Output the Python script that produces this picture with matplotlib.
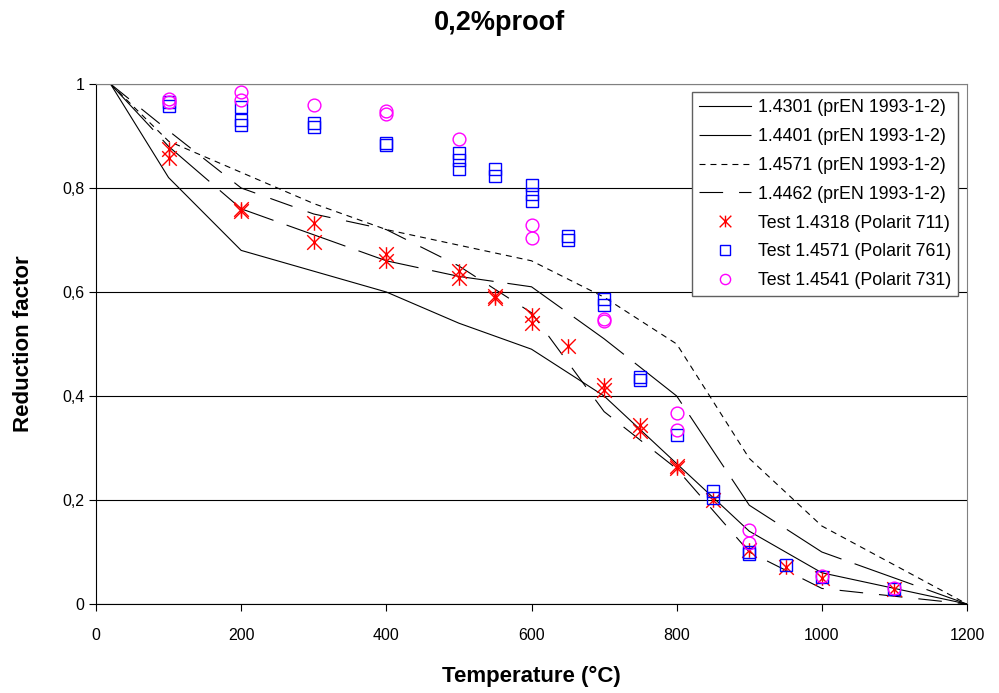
import matplotlib
matplotlib.use('Agg')
import matplotlib.pyplot as plt
from matplotlib.path import Path
from matplotlib.ticker import FuncFormatter

plt.rcParams['font.family'] = ['Liberation Sans', 'DejaVu Sans']
plt.rcParams['lines.scale_dashes'] = False

# prEN 1993-1-2 reduction factors k0,2proof
temps_en = [20, 100, 200, 300, 400, 500, 600, 700, 800, 900, 1000, 1100, 1200]
k_4301 = [1, 0.82, 0.68, 0.64, 0.60, 0.54, 0.49, 0.40, 0.27, 0.14, 0.06, 0.03, 0]
k_4401 = [1, 0.88, 0.76, 0.71, 0.66, 0.63, 0.61, 0.51, 0.40, 0.19, 0.10, 0.05, 0]
k_4571 = [1, 0.89, 0.83, 0.77, 0.72, 0.69, 0.66, 0.59, 0.50, 0.28, 0.15, 0.075, 0]
k_4462 = [1, 0.91, 0.80, 0.75, 0.72, 0.65, 0.56, 0.37, 0.26, 0.10, 0.03, 0.015, 0]

# test results
t_4318 = [100, 100, 200, 200, 300, 300, 400, 400, 500, 500, 550, 550, 600, 600,
          650, 700, 700, 750, 750, 800, 800, 850, 900, 950, 1000, 1100]
k_4318 = [0.875, 0.858, 0.76, 0.755, 0.732, 0.697, 0.673, 0.660, 0.641, 0.626,
          0.593, 0.589, 0.555, 0.540, 0.497, 0.422, 0.412, 0.345, 0.332,
          0.266, 0.261, 0.200, 0.104, 0.071, 0.050, 0.028]

t_4571 = [100, 100, 200, 200, 200, 300, 300, 400, 400, 500, 500, 500, 550, 550,
          600, 600, 600, 650, 650, 700, 700, 750, 750, 800, 850, 850, 900, 900,
          950, 1000, 1100]
k_4571t = [0.965, 0.957, 0.955, 0.930, 0.922, 0.925, 0.918, 0.887, 0.882,
           0.867, 0.854, 0.836, 0.836, 0.824, 0.806, 0.788, 0.775, 0.707, 0.700,
           0.587, 0.575, 0.436, 0.430, 0.325, 0.218, 0.204, 0.100, 0.096,
           0.075, 0.052, 0.028]

t_4541 = [100, 100, 200, 200, 300, 400, 400, 500, 600, 600, 700, 700, 800, 800,
          900, 900, 1000, 1100]
k_4541 = [0.972, 0.966, 0.985, 0.970, 0.960, 0.948, 0.943, 0.895, 0.729, 0.704,
          0.548, 0.545, 0.368, 0.335, 0.142, 0.117, 0.053, 0.030]

# excel-like asterisk: X plus vertical bar
star = Path([(0, -1), (0, 1), (-1, -1), (1, 1), (-1, 1), (1, -1)],
            [Path.MOVETO, Path.LINETO, Path.MOVETO, Path.LINETO,
             Path.MOVETO, Path.LINETO])

fig = plt.figure(figsize=(9.99, 6.93), dpi=100)
ax = fig.add_axes([0.0961, 0.1284, 0.8719, 0.7504])

ax.plot(temps_en, k_4301, color='black', lw=0.8,
        label='1.4301 (prEN 1993-1-2)')
ax.plot(temps_en, k_4401, color='black', lw=0.8, dashes=(45, 10),
        label='1.4401 (prEN 1993-1-2)')
ax.plot(temps_en, k_4571, color='black', lw=0.8, dashes=(4.3, 3.6),
        label='1.4571 (prEN 1993-1-2)')
ax.plot(temps_en, k_4462, color='black', lw=0.8, dashes=(17, 11.5),
        label='1.4462 (prEN 1993-1-2)')

ax.plot(t_4318, k_4318, linestyle='', marker=star, ms=10.5, mew=1.0,
        color='#FF0000', label='Test 1.4318 (Polarit 711)')
ax.plot(t_4571, k_4571t, linestyle='', marker='s', ms=9.2, mew=1.0,
        mfc='none', mec='#0000FF', label='Test 1.4571 (Polarit 761)')
ax.plot(t_4541, k_4541, linestyle='', marker='o', ms=9.2, mew=1.0,
        mfc='none', mec='#FF00FF', label='Test 1.4541 (Polarit 731)')

ax.set_xlim(0, 1200)
ax.set_ylim(0, 1)
ax.set_xticks(range(0, 1201, 200))
ax.set_yticks([0, 0.2, 0.4, 0.6, 0.8, 1])
ax.yaxis.set_major_formatter(FuncFormatter(
    lambda v, p: ('%g' % round(v, 1)).replace('.', ',')))
ax.tick_params(direction='out', length=5, width=0.8, labelsize=11.5,
               colors='black')
ax.tick_params(axis='x', pad=12)
ax.grid(axis='y', color='black', lw=0.8)
ax.set_axisbelow(True)
for s in ['top', 'right']:
    ax.spines[s].set_color('#808080')
for s in ['left', 'bottom']:
    ax.spines[s].set_color('black')

ax.set_xlabel('Temperature (°C)', fontsize=16, fontweight='bold', labelpad=17)
ax.set_ylabel('Reduction factor', fontsize=16, fontweight='bold', labelpad=20)
fig.suptitle('0,2%proof', fontsize=19.5, fontweight='bold', y=0.985)

leg = ax.legend(loc='upper right', bbox_to_anchor=(0.99, 0.985),
                borderaxespad=0, fontsize=12.8, fancybox=False,
                edgecolor='#606060', framealpha=1, handlelength=2.9,
                handletextpad=0.4, labelspacing=0.67, borderpad=0.4,
                markerscale=0.8)
leg.get_frame().set_linewidth(1.0)

fig.savefig('out.png', dpi=100)
